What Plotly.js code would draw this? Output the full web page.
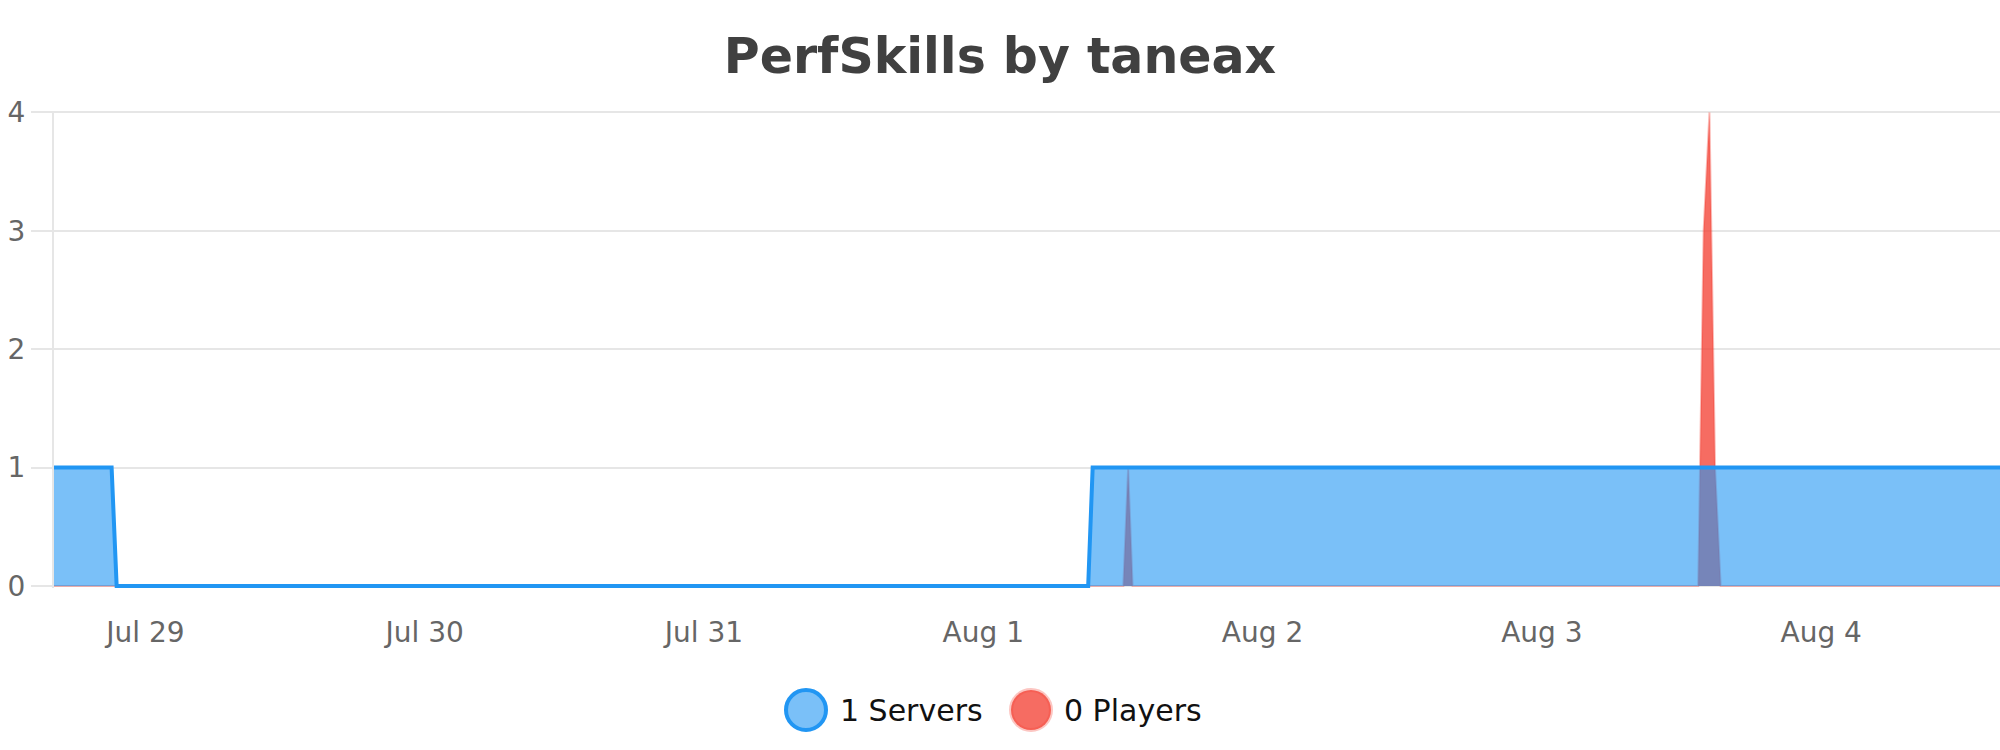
<!DOCTYPE html>
<html>
<head>
<meta charset="utf-8">
<script src="https://cdn.plot.ly/plotly-3.0.1.min.js"></script>
<style>
  html, body { margin: 0; padding: 0; background: #fff; }
  #chart { width: 2000px; height: 750px; }
</style>
</head>
<body>
<div id="chart"></div>
<script>
// Data (only the change points)
const serverTimes = ['2020-07-28 16:00', '2020-07-28 21:06', '2020-07-28 21:32', '2020-08-01 09:01', '2020-08-01 09:24', '2020-08-04 16:00'];
const serverCounts = [1, 1, 0, 0, 1, 1];

const playerTimes = ['2020-07-28 16:00', '2020-08-01 12:02', '2020-08-01 12:27', '2020-08-01 12:50',
  '2020-08-03 13:26', '2020-08-03 13:54', '2020-08-03 14:24', '2020-08-03 14:53', '2020-08-03 15:22', '2020-08-04 16:00'];
const playerCounts = [0, 0, 1, 0, 0, 3, 4, 1, 0, 0];

const tickDays = ['2020-07-29', '2020-07-30', '2020-07-31', '2020-08-01', '2020-08-02', '2020-08-03', '2020-08-04'];
const seriesNames = ['1 Servers', '0 Players'];

const W = 2000, H = 750;
const M = { l: 54, r: 0, t: 111, b: 162 };
const FONT = 'DejaVu Sans, sans-serif';

const blue = '#2196f3';
const blueFill = 'rgba(33,150,243,0.6)';
const redFill = 'rgba(244,67,54,0.78)';
const redLine = 'rgba(244,67,54,0.35)';

// pixel -> paper helpers for the hand drawn legend
const px = x => (x - M.l) / (W - M.l - M.r);
const py = y => (H - M.b - y) / (H - M.t - M.b);

const players = {
  x: playerTimes, y: playerCounts,
  type: 'scatter', mode: 'lines', fill: 'tozeroy',
  fillcolor: redFill,
  line: { color: redLine, width: 2 },
  name: seriesNames[1], showlegend: false
};

const servers = {
  x: serverTimes, y: serverCounts,
  type: 'scatter', mode: 'lines', fill: 'tozeroy',
  fillcolor: blueFill,
  line: { color: blue, width: 4 },
  name: seriesNames[0], showlegend: false
};

function legendItem(cx, cy, fill, stroke, label, tx) {
  return {
    shape: {
      type: 'circle', xref: 'paper', yref: 'paper',
      xsizemode: 'pixel', ysizemode: 'pixel',
      xanchor: px(cx), yanchor: py(cy),
      x0: -20, x1: 20, y0: -20, y1: 20,
      fillcolor: fill, line: { color: stroke, width: 4 }
    },
    annotation: {
      xref: 'paper', yref: 'paper', x: px(tx), y: py(cy),
      xanchor: 'left', yanchor: 'middle', showarrow: false,
      text: label, font: { family: FONT, size: 30, color: '#111' }
    }
  };
}

const items = [
  legendItem(806, 710, blueFill, blue, seriesNames[0], 838),
  legendItem(1031, 710, redFill, 'rgba(244,67,54,0.3)', seriesNames[1], 1062)
];

Plotly.newPlot('chart', [players, servers], {
  width: W, height: H,
  margin: M,
  paper_bgcolor: 'white',
  plot_bgcolor: 'white',
  showlegend: false,
  title: {
    text: '<b>PerfSkills by taneax</b>',
    font: { family: FONT, size: 49, color: '#404040' },
    x: 0.5, xref: 'container', xanchor: 'center',
    y: 1 - 56 / H, yref: 'container', yanchor: 'middle'
  },
  xaxis: {
    type: 'date',
    range: ['2020-07-28 16:09', '2020-08-04 15:22'],
    tickvals: tickDays,
    tickformat: '%b %-d',
    showgrid: false, zeroline: false, showline: false,
    ticks: '',
    ticklabelstandoff: 25,
    tickfont: { family: FONT, size: 28, color: '#666666' }
  },
  yaxis: {
    range: [-0.017, 4.012],
    tickvals: [0, 1, 2, 3, 4],
    showgrid: true, gridcolor: '#e6e6e6', gridwidth: 2,
    zeroline: false,
    showline: true, linecolor: '#e6e6e6', linewidth: 2,
    ticks: 'outside', ticklen: 21, tickwidth: 2, tickcolor: '#e6e6e6',
    tickfont: { family: FONT, size: 28, color: '#666666' }
  },
  shapes: items.map(i => i.shape),
  annotations: items.map(i => i.annotation)
}, { displayModeBar: false, staticPlot: true });
</script>
</body>
</html>
